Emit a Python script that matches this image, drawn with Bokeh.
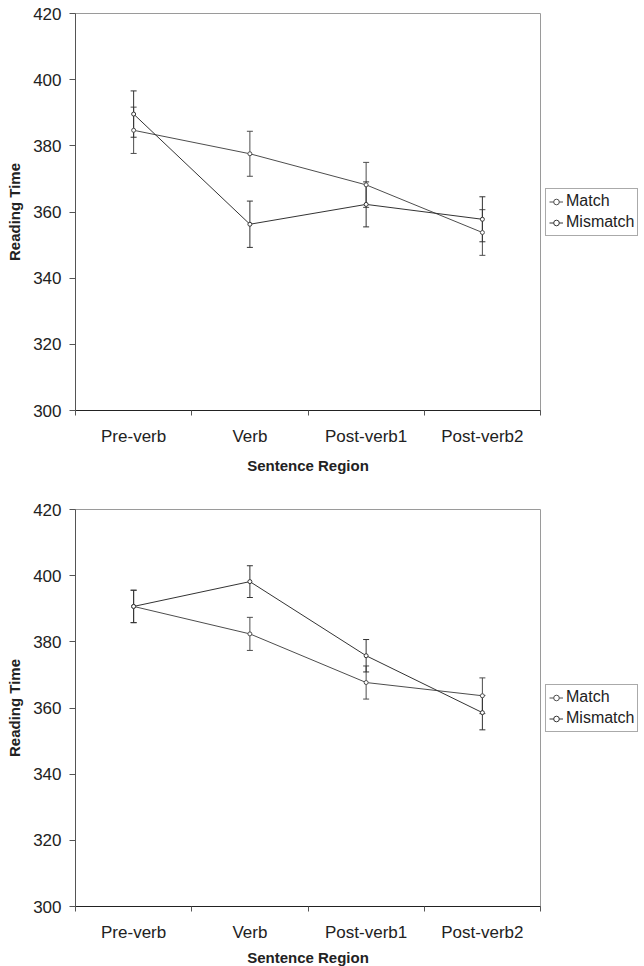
from bokeh.plotting import figure
from bokeh.models import ColumnDataSource, Whisker, TeeHead, FixedTicker, Legend, LegendItem, Range1d
from bokeh.layouts import column
from bokeh.embed import file_html
from bokeh.resources import INLINE

categories = ["Pre-verb", "Verb", "Post-verb1", "Post-verb2"]
y_ticks = [300, 320, 340, 360, 380, 400, 420]

top_match = [384.7, 377.6, 368.2, 353.8]
top_match_err = [7.0, 6.8, 6.8, 6.9]
top_mismatch = [389.6, 356.3, 362.3, 357.8]
top_mismatch_err = [7.0, 7.0, 6.8, 6.8]

bottom_match = [390.7, 382.4, 367.7, 363.7]
bottom_match_err = [4.9, 5.0, 5.0, 5.4]
bottom_mismatch = [390.7, 398.2, 375.8, 358.6]
bottom_mismatch_err = [4.9, 4.8, 4.9, 5.2]

FONT = "Liberation Sans"
TXT = "#222222"


def make_panel(match, match_err, mismatch, mismatch_err, b_top, b_bottom,
               lab_standoff, title_standoff):
    xs = [i + 0.5 for i in range(len(categories))]
    p = figure(frame_width=465, frame_height=397, output_backend="svg", toolbar_location=None,
               x_range=Range1d(0, len(categories)), y_range=Range1d(y_ticks[0], y_ticks[-1]),
               min_border_left=75, min_border_right=0, min_border_top=b_top,
               min_border_bottom=b_bottom)
    p.xgrid.visible = False
    p.ygrid.visible = False
    p.outline_line_color = "#9a9a9a"
    p.background_fill_color = "white"
    p.border_fill_color = "white"

    # x axis
    p.xaxis.ticker = FixedTicker(ticks=xs, minor_ticks=list(range(len(categories) + 1)))
    p.xaxis.major_label_overrides = {x: c for x, c in zip(xs, categories)}
    p.xaxis.major_tick_out = 0
    p.xaxis.major_tick_in = 0
    p.xaxis.minor_tick_out = 5
    p.xaxis.minor_tick_in = 0
    p.xaxis.minor_tick_line_color = "#555555"
    p.xaxis.axis_line_color = "#222222"
    p.xaxis.major_label_text_font = FONT
    p.xaxis.major_label_text_font_size = "17px"
    p.xaxis.major_label_text_color = TXT
    p.xaxis.major_label_standoff = lab_standoff
    p.xaxis.axis_label = "Sentence Region"
    p.xaxis.axis_label_text_font = FONT
    p.xaxis.axis_label_text_font_style = "bold"
    p.xaxis.axis_label_text_font_size = "15px"
    p.xaxis.axis_label_text_color = TXT
    p.xaxis.axis_label_standoff = title_standoff

    # y axis
    p.yaxis.ticker = FixedTicker(ticks=y_ticks, minor_ticks=[])
    p.yaxis.major_tick_out = 6
    p.yaxis.major_tick_in = 0
    p.yaxis.major_tick_line_color = "#555555"
    p.yaxis.axis_line_color = "#555555"
    p.yaxis.major_label_text_font = FONT
    p.yaxis.major_label_text_font_size = "17px"
    p.yaxis.major_label_text_color = TXT
    p.yaxis.major_label_standoff = 8
    p.yaxis.axis_label = "Reading Time"
    p.yaxis.axis_label_text_font = FONT
    p.yaxis.axis_label_text_font_style = "bold"
    p.yaxis.axis_label_text_font_size = "15px"
    p.yaxis.axis_label_text_color = TXT
    p.yaxis.axis_label_standoff = 7

    items = []
    for name, vals, errs, col in [("Match", match, match_err, "#4d4d4d"),
                                  ("Mismatch", mismatch, mismatch_err, "#333333")]:
        src = ColumnDataSource(dict(
            x=xs, y=vals,
            upper=[v + e for v, e in zip(vals, errs)],
            lower=[v - e for v, e in zip(vals, errs)]))
        w = Whisker(base="x", upper="upper", lower="lower", source=src,
                    line_color=col, line_width=1,
                    upper_head=TeeHead(size=6, line_color=col, line_width=1),
                    lower_head=TeeHead(size=6, line_color=col, line_width=1))
        p.add_layout(w)
        ln = p.line("x", "y", source=src, line_color=col, line_width=1)
        sc = p.scatter("x", "y", source=src, marker="circle", size=4,
                       fill_color="white", line_color=col, line_width=1)
        items.append(LegendItem(label=name, renderers=[ln, sc]))

    leg = Legend(items=items, location="center_left")
    leg.border_line_color = "#555555"
    leg.background_fill_color = "white"
    leg.background_fill_alpha = 1.0
    leg.label_text_font = FONT
    leg.label_text_font_size = "16px"
    leg.label_text_color = TXT
    leg.glyph_width = 14
    leg.glyph_height = 19
    leg.label_height = 19
    leg.label_standoff = 3
    leg.padding = 3
    leg.spacing = 2
    leg.margin = 5
    p.add_layout(leg, "right")
    return p


p1 = make_panel(top_match, top_match_err, top_mismatch, top_mismatch_err,
                b_top=13, b_bottom=73, lab_standoff=11, title_standoff=8)
p2 = make_panel(bottom_match, bottom_match_err, bottom_mismatch, bottom_mismatch_err,
                b_top=26, b_bottom=60, lab_standoff=11, title_standoff=4)

p = column(p1, p2, spacing=0)
open("out.html", "w").write(file_html(p, INLINE))
